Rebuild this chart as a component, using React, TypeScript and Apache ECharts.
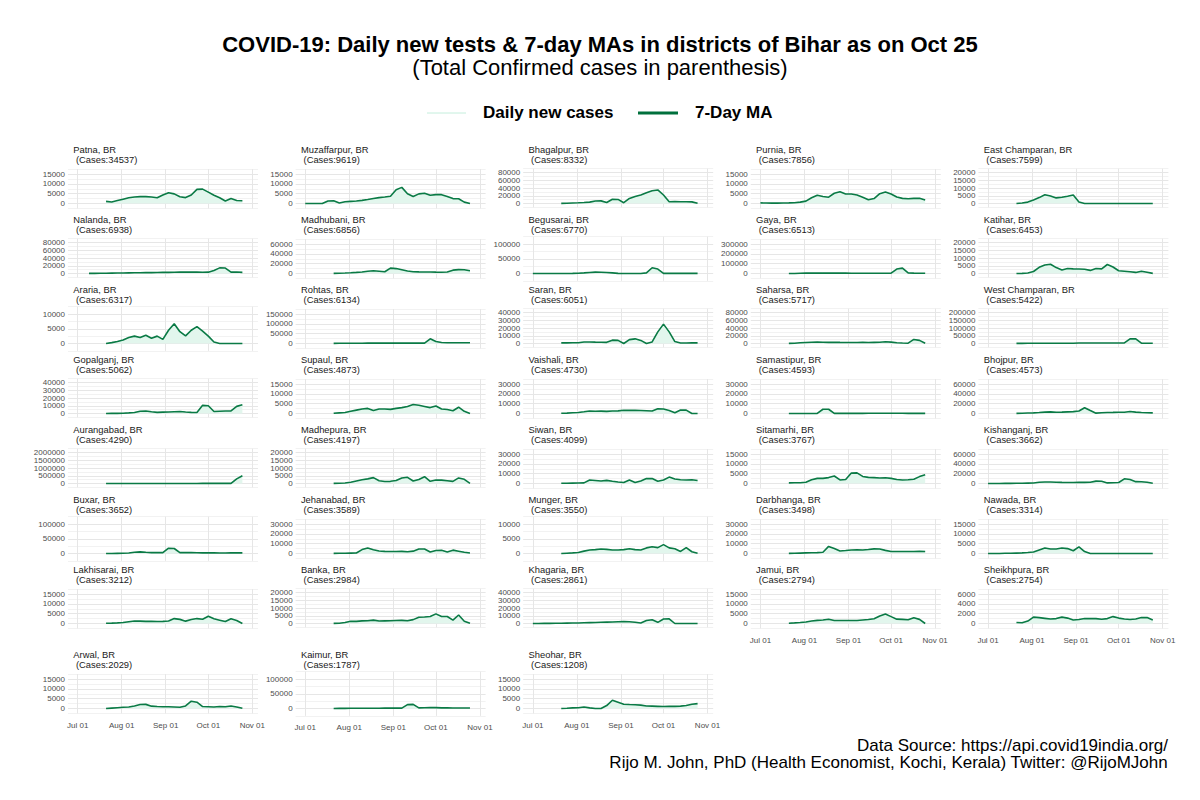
import { useEffect, useRef } from 'react';
import * as echarts from 'echarts';

const districts = [
  'Patna', 'Muzaffarpur', 'Bhagalpur', 'Purnia', 'East Champaran',
  'Nalanda', 'Madhubani', 'Begusarai', 'Gaya', 'Katihar',
  'Araria', 'Rohtas', 'Saran', 'Saharsa', 'West Champaran',
  'Gopalganj', 'Supaul', 'Vaishali', 'Samastipur', 'Bhojpur',
  'Aurangabad', 'Madhepura', 'Siwan', 'Sitamarhi', 'Kishanganj',
  'Buxar', 'Jehanabad', 'Munger', 'Darbhanga', 'Nawada',
  'Lakhisarai', 'Banka', 'Khagaria', 'Jamui', 'Sheikhpura',
  'Arwal', 'Kaimur', 'Sheohar',
];
const totalCases = [
  34537, 9619, 8332, 7856, 7599,
  6938, 6856, 6770, 6513, 6453,
  6317, 6134, 6051, 5717, 5422,
  5062, 4873, 4730, 4593, 4573,
  4290, 4197, 4099, 3767, 3662,
  3652, 3589, 3550, 3498, 3314,
  3212, 2984, 2861, 2794, 2754,
  2029, 1787, 1208,
];
const yStep = [
  5000, 5000, 20000, 5000, 5000,
  20000, 20000, 50000, 100000, 5000,
  5000, 50000, 10000, 20000, 50000,
  10000, 5000, 10000, 10000, 20000,
  500000, 5000, 10000, 5000, 20000,
  50000, 10000, 5000, 10000, 5000,
  5000, 5000, 10000, 5000, 2000,
  5000, 50000, 5000,
];
const yTopTick = [
  15000, 15000, 80000, 15000, 20000,
  80000, 60000, 100000, 300000, 20000,
  10000, 150000, 40000, 80000, 200000,
  40000, 15000, 30000, 30000, 60000,
  2000000, 20000, 30000, 15000, 60000,
  100000, 30000, 10000, 30000, 15000,
  15000, 20000, 40000, 15000, 6000,
  15000, 100000, 15000,
];
// days since Jul 01, 2020 (last = Oct 25)
const sampleDays = [0, 4, 8, 12, 16, 20, 24, 28, 32, 36, 40, 44, 48, 52, 56, 60, 64, 68, 72, 76, 80, 84, 88, 92, 96, 100, 104, 108, 112, 116];
const monthTicks = [0, 31, 62, 92, 123];
const monthLabels = ['Jul 01', 'Aug 01', 'Sep 01', 'Oct 01', 'Nov 01'];

const n = null;
const patna = [n, n, n, n, n, 1100, 800, 1500, 2200, 2900, 3300, 3500, 3500, 3300, 2900, 4300, 5500, 4900, 3400, 3000, 4300, 7200, 7300, 5800, 4200, 2900, 1300, 2500, 1500, 1400];
const muzaffarpur = [0, 0, 0, 0, 1300, 1400, 300, 900, 1100, 1300, 1600, 2000, 2500, 3000, 3300, 3700, 7000, 8200, 5000, 3600, 4900, 5200, 4200, 4500, 4500, 3600, 2500, 2400, 700, 0];
const bhagalpur = [n, n, n, n, n, 300, 500, 1200, 1800, 2500, 3500, 6500, 6800, 2500, 11000, 10500, 2000, 13000, 18000, 22000, 28000, 33000, 35000, 22000, 4500, 5200, 4500, 4500, 4200, 400];
const purnia = [300, 250, 200, 200, 250, 300, 400, 700, 1200, 2900, 4200, 3600, 3200, 5200, 6000, 4800, 4800, 4300, 3200, 1900, 2500, 5000, 5800, 4800, 3300, 2600, 2400, 2600, 2700, 1800];
const eastChamparan = [n, n, n, n, n, 0, 300, 900, 2300, 3800, 5700, 4800, 3600, 4000, 4700, 5500, 1000, 0, 0, 0, 0, 0, 0, 0, 0, 0, 0, 0, 0, 0];
const nalanda = [n, n, 300, 400, 600, 800, 1000, 1200, 1400, 1600, 1800, 2000, 2200, 2300, 2500, 2800, 3000, 3200, 3500, 3800, 3500, 3600, 3300, 3500, 8000, 14500, 14000, 3500, 3800, 3000];
const madhubani = [n, n, n, n, n, 300, 600, 1000, 1500, 2200, 3000, 4500, 5500, 4500, 3500, 11000, 10000, 7500, 5000, 3500, 3300, 3200, 3000, 2700, 2600, 3000, 6800, 7800, 7500, 5500];
const begusarai = [0, 0, 0, 0, 0, 0, 200, 500, 1000, 2000, 3500, 4500, 4000, 3500, 2000, 500, 0, 0, 0, 0, 2000, 19500, 15000, 500, 500, 500, 500, 500, 500, 500];
const gaya = [n, n, n, n, n, 0, 500, 2000, 3500, 4000, 4500, 4000, 4000, 3800, 3500, 3500, 3300, 3300, 3200, 3000, 3000, 3200, 3300, 3000, 45000, 55000, 6000, 4000, 3000, 2000];
const katihar = [n, n, n, n, n, 0, 100, 300, 1300, 4000, 5500, 6000, 3800, 2300, 3200, 3000, 2900, 2700, 2000, 3200, 3000, 5800, 4200, 1800, 1500, 1100, 700, 1500, 800, 100];
const araria = [n, n, n, n, n, 0, 300, 700, 1200, 2000, 2500, 2000, 2800, 1800, 2500, 1400, 4500, 6700, 4000, 2600, 4500, 5700, 4200, 2500, 500, 0, 0, 0, 0, 0];
const rohtas = [n, n, n, n, n, 500, 1200, 1500, 1500, 1600, 1600, 1700, 1700, 1700, 1800, 1800, 1800, 1800, 1900, 1900, 1900, 2000, 24000, 10000, 5000, 4000, 3500, 4000, 4000, 3500];
const saran = [n, n, n, n, n, 800, 800, 900, 1000, 2000, 2000, 1800, 1700, 1500, 4300, 4000, 0, 5000, 6000, 4000, 0, 2000, 15000, 25000, 15000, 2500, 600, 700, 800, 800];
const saharsa = [n, n, n, n, n, 200, 800, 1800, 2600, 3200, 3500, 3200, 3000, 3000, 2800, 2700, 2500, 2600, 2800, 2700, 3000, 3200, 4500, 3500, 2000, 1200, 800, 10500, 8000, 500];
const westChamparan = [n, n, n, n, n, 500, 1000, 1500, 1500, 1500, 1500, 1500, 1500, 1500, 1500, 2000, 3000, 3500, 3500, 3500, 3500, 3500, 3500, 3500, 3500, 30000, 30000, 2000, 2000, 2000];
const gopalganj = [n, n, n, n, n, 0, 100, 200, 400, 800, 1300, 3000, 3300, 2200, 1500, 1800, 2000, 2300, 2600, 2000, 1500, 1300, 10500, 10000, 2500, 3000, 3200, 3400, 9200, 11400];
const supaul = [n, n, n, n, n, 100, 300, 500, 1100, 1700, 2300, 2600, 1500, 2300, 2300, 2100, 2600, 3000, 3600, 4600, 4200, 3600, 3000, 3800, 2300, 2000, 1400, 3200, 1100, 0];
const vaishali = [n, n, n, n, n, 300, 400, 700, 1000, 1700, 2600, 2300, 2400, 2200, 2500, 2700, 3300, 3200, 3300, 3100, 2800, 2500, 4800, 4500, 3000, 700, 3600, 3400, 0, 0];
const samastipur = [n, n, n, n, n, 0, 0, 0, 0, 0, 100, 4300, 4300, 100, 100, 100, 100, 150, 150, 200, 200, 250, 300, 250, 200, 200, 150, 150, 150, 100];
const bhojpur = [n, n, n, n, n, 200, 500, 900, 1300, 2000, 2800, 3300, 2600, 2800, 3300, 3800, 5000, 11800, 6000, 700, 1500, 2000, 2200, 2500, 2600, 4000, 2800, 2000, 1500, 1200];
const aurangabad = [n, n, n, n, n, 0, 0, 500, 1000, 1500, 2000, 2000, 2500, 2500, 3000, 3000, 3500, 3500, 4000, 4000, 4500, 4500, 5000, 5000, 5000, 5500, 6000, 6000, 300000, 500000];
const madhepura = [n, n, n, n, n, 100, 200, 300, 800, 1600, 2400, 3000, 3800, 1800, 1300, 1400, 1900, 3500, 4000, 1600, 2600, 4400, 1400, 2200, 2200, 1800, 1400, 3600, 2700, 100];
const siwan = [n, n, n, n, n, 300, 300, 400, 500, 600, 3500, 3000, 2500, 3200, 2300, 1500, 1000, 3500, 1000, 2500, 5000, 5000, 2200, 3500, 6500, 4500, 3800, 3600, 3800, 3000];
const sitamarhi = [n, n, n, n, n, 300, 350, 400, 600, 1900, 2600, 2600, 3000, 3800, 1800, 2000, 5300, 5400, 3600, 3100, 3000, 2800, 2900, 2600, 2000, 1800, 1900, 2200, 3500, 4500];
const kishanganj = [0, 0, 100, 200, 300, 500, 600, 800, 1000, 2500, 3200, 3000, 2500, 2200, 2000, 2000, 2200, 2300, 2500, 4800, 4500, 1200, 1500, 2000, 9500, 8000, 3800, 3500, 2500, 600];
const buxar = [n, n, n, n, n, 0, 200, 500, 800, 1500, 4000, 5500, 4000, 3000, 3000, 3000, 18000, 17000, 3000, 3000, 2800, 2500, 2200, 2000, 2000, 1800, 1800, 2000, 2000, 2000];
const jehanabad = [n, n, n, n, n, 100, 200, 300, 400, 500, 4000, 5500, 3800, 2500, 2200, 2000, 2100, 2200, 1800, 2400, 4500, 4600, 1500, 3000, 3200, 1600, 3400, 2300, 1200, 500];
const munger = [n, n, n, n, n, 0, 100, 200, 350, 800, 1200, 1300, 1500, 1400, 1200, 1200, 1300, 1600, 1300, 1200, 1900, 2300, 2000, 3000, 1900, 1600, 700, 2000, 600, 100];
const darbhanga = [n, n, n, n, n, 100, 200, 400, 600, 800, 900, 1300, 7200, 5000, 2500, 3000, 3600, 3800, 3500, 4000, 4700, 4500, 3200, 2000, 2000, 2100, 2000, 2100, 2200, 2000];
const nawada = [0, 0, 0, 100, 100, 200, 300, 500, 800, 1800, 2800, 2300, 2300, 2800, 2500, 1400, 3400, 1000, 0, 0, 0, 0, 0, 0, 0, 0, 0, 0, 0, 0];
const lakhisarai = [n, n, n, n, n, 150, 200, 300, 500, 900, 1300, 1200, 1100, 1100, 1000, 1100, 1300, 2500, 2100, 1200, 2000, 2500, 2200, 3700, 2400, 1700, 1000, 2400, 1500, 0];
const banka = [n, n, n, n, n, 100, 200, 600, 1500, 1400, 1700, 1800, 2200, 1600, 1700, 1800, 1900, 2000, 1800, 2500, 4000, 4200, 4500, 6200, 4500, 4500, 2200, 5500, 1500, 100];
const khagaria = [0, 0, 100, 200, 300, 400, 500, 600, 700, 900, 1100, 1300, 1600, 1800, 2000, 2300, 2500, 2200, 1600, 600, 3800, 4800, 1500, 5800, 6000, 0, 0, 0, 0, 0];
const jamui = [n, n, n, n, n, 150, 300, 500, 800, 1300, 1600, 1800, 2200, 1500, 1500, 1500, 1500, 1500, 1800, 2000, 2400, 3800, 4800, 3500, 2200, 2100, 1900, 2900, 2100, 0];
const sheikhpura = [n, n, n, n, n, 200, 150, 500, 1300, 1200, 1050, 900, 1000, 1300, 1100, 700, 800, 1000, 1000, 1000, 850, 1000, 1400, 1100, 900, 800, 900, 1200, 1200, 700];
const arwal = [n, n, n, n, n, 0, 200, 400, 600, 800, 1300, 2000, 2100, 1200, 1000, 900, 900, 800, 600, 1300, 3700, 3200, 1000, 900, 800, 1000, 900, 1300, 800, 100];
const kaimur = [n, n, n, n, n, 0, 300, 500, 600, 800, 900, 1000, 1000, 1100, 1200, 1200, 1300, 1300, 13000, 14000, 2000, 2500, 3300, 2800, 2200, 2000, 1800, 1800, 1800, 1500];
const sheohar = [n, n, n, n, n, 0, 100, 300, 400, 800, 300, 0, 0, 1500, 4200, 3200, 2200, 2000, 1900, 1700, 1300, 1200, 1100, 1000, 1100, 1100, 1200, 1500, 2200, 2500];

const maSeries = [
  patna, muzaffarpur, bhagalpur, purnia, eastChamparan,
  nalanda, madhubani, begusarai, gaya, katihar,
  araria, rohtas, saran, saharsa, westChamparan,
  gopalganj, supaul, vaishali, samastipur, bhojpur,
  aurangabad, madhepura, siwan, sitamarhi, kishanganj,
  buxar, jehanabad, munger, darbhanga, nawada,
  lakhisarai, banka, khagaria, jamui, sheikhpura,
  arwal, kaimur, sheohar,
];

const FONT = "'Liberation Sans', Arial, Helvetica, sans-serif";
const MA_COLOR = '#0a7a45';
const DAILY_COLOR = '#c4eedc';
const AREA_COLOR = '#e2f6ed';

function buildOption() {
  const grids: any[] = [];
  const xAxes: any[] = [];
  const yAxes: any[] = [];
  const series: any[] = [];
  const titles: any[] = [
    {
      text: 'COVID-19: Daily new tests & 7-day MAs in districts of Bihar as on Oct 25',
      left: 'center', top: 34, padding: 0,
      textStyle: { fontSize: 22, fontWeight: 'bold', color: '#000', fontFamily: FONT, lineHeight: 21 },
    },
    {
      text: '(Total Confirmed cases in parenthesis)',
      left: 'center', top: 57, padding: 0,
      textStyle: { fontSize: 22, fontWeight: 'normal', color: '#000', fontFamily: FONT, lineHeight: 21 },
    },
    {
      text: 'Data Source: https://api.covid19india.org/',
      right: 32, top: 737, padding: 0,
      textStyle: { fontSize: 17, fontWeight: 'normal', color: '#000', fontFamily: FONT, lineHeight: 16 },
    },
    {
      text: 'Rijo M. John, PhD (Health Economist, Kochi, Kerala) Twitter: @RijoMJohn',
      right: 32, top: 754, padding: 0,
      textStyle: { fontSize: 17, fontWeight: 'normal', color: '#000', fontFamily: FONT, lineHeight: 16 },
    },
  ];

  districts.forEach((name, i) => {
    const r = Math.floor(i / 5);
    const c = i % 5;
    const zero = 203.5 + 70 * r + (r === 7 ? 15 : 0);
    const step = yStep[i];
    const top = yTopTick[i];
    const nt = top / step + 1;
    const span = nt >= 5 ? 31 : 29.5;
    const stepPx = span / (nt - 1);
    const gridTop = zero - span - stepPx / 2;
    const left = 68 + 227.6 * c;
    grids.push({ left, top: gridTop, width: 190, height: span + stepPx, containLabel: false });
    const showX = i >= 33;
    xAxes.push({
      type: 'value', gridIndex: i, min: -6.8, max: 127,
      axisLine: { show: false },
      axisTick: { show: false, customValues: monthTicks },
      axisLabel: {
        show: showX, customValues: monthTicks, fontSize: 8, color: '#4d4d4d', fontFamily: FONT, margin: 8,
        formatter: (v: number) => {
          const k = monthTicks.indexOf(Math.round(v));
          return k >= 0 ? monthLabels[k] : '';
        },
      },
      splitLine: { show: true, lineStyle: { color: '#e6e6e6', width: 1 } },
    });
    yAxes.push({
      type: 'value', gridIndex: i, min: -step / 2, max: top + step / 2, interval: step / 2,
      axisLine: { show: false }, axisTick: { show: false },
      axisLabel: {
        fontSize: 8, color: '#4d4d4d', fontFamily: FONT, margin: 3,
        formatter: (v: number) => (v >= 0 && Math.abs(v % step) < 1e-6 ? String(v) : ''),
      },
      splitLine: { show: true, lineStyle: { color: ['#f2f2f2', '#e6e6e6'], width: 1 } },
    });
    const vals = maSeries[i];
    const data: any[] = [];
    vals.forEach((v, k) => { if (v !== null) data.push([sampleDays[k], v]); });
    series.push({
      name: '7-Day MA', type: 'line', xAxisIndex: i, yAxisIndex: i, data,
      showSymbol: false, symbol: 'none', smooth: false,
      lineStyle: { color: MA_COLOR, width: 1.6 },
      areaStyle: { color: AREA_COLOR, opacity: 1 },
      z: 3,
    });
    titles.push({
      text: `${name}, BR\n (Cases:${totalCases[i]})`,
      left: 73.3 + 227.6 * c, top: zero - 58.5, padding: 0,
      textStyle: { fontSize: 9.4, lineHeight: 9.6, fontWeight: 'normal', color: '#1a1a1a', fontFamily: FONT },
    });
  });

  const graphic = [
    { type: 'line', shape: { x1: 427, y1: 113, x2: 466, y2: 113 }, style: { stroke: DAILY_COLOR, lineWidth: 1 } },
    { type: 'text', left: 483, top: 104, style: { text: 'Daily new cases', fontSize: 17, fontWeight: 'bold', fontFamily: FONT, fill: '#000' } },
    { type: 'line', shape: { x1: 638, y1: 113, x2: 678, y2: 113 }, style: { stroke: '#00703c', lineWidth: 3 } },
    { type: 'text', left: 695, top: 104, style: { text: '7-Day MA', fontSize: 17, fontWeight: 'bold', fontFamily: FONT, fill: '#000' } },
  ];

  return {
    animation: false,
    backgroundColor: '#ffffff',
    textStyle: { fontFamily: FONT },
    title: titles,
    grid: grids,
    xAxis: xAxes,
    yAxis: yAxes,
    series,
    graphic,
  };
}

export default function App() {
  const ref = useRef<HTMLDivElement>(null);
  useEffect(() => {
    if (!ref.current) return;
    const chart = echarts.init(ref.current, undefined, { renderer: 'svg' });
    chart.setOption(buildOption() as any);
    return () => chart.dispose();
  }, []);
  return (
    <div
      ref={ref}
      style={{ position: 'fixed', left: 0, top: 0, width: 1200, height: 800, background: '#fff' }}
    />
  );
}
